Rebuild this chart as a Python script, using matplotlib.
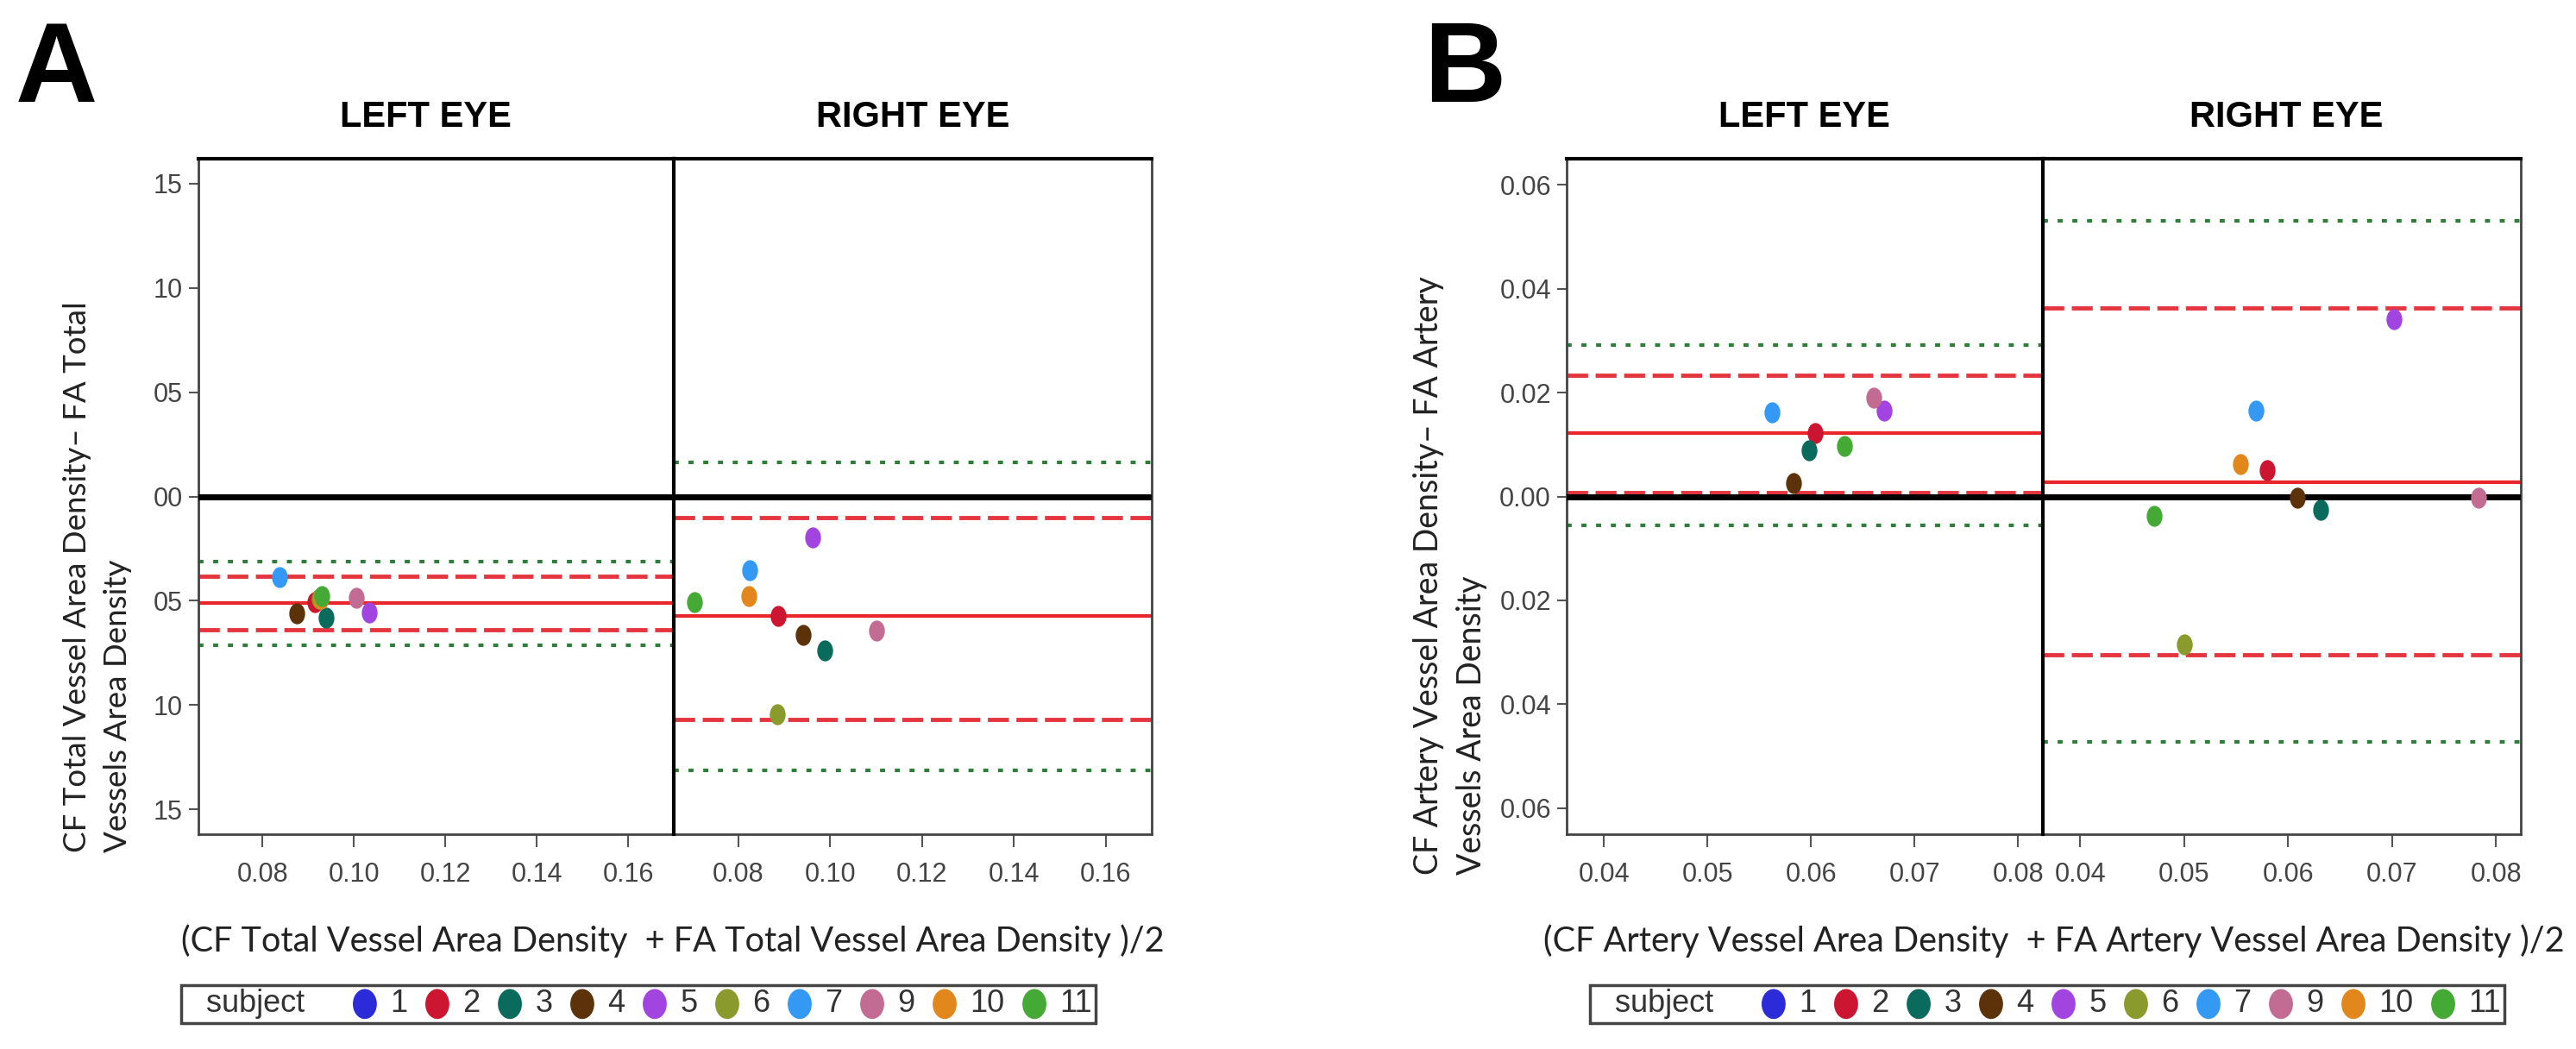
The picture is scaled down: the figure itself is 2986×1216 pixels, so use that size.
import numpy as np
import matplotlib
matplotlib.use("Agg")
import matplotlib.pyplot as plt
from matplotlib.path import Path
from matplotlib.transforms import Affine2D
from matplotlib.patches import Ellipse
from matplotlib.offsetbox import AnchoredOffsetbox, HPacker, TextArea, DrawingArea

nan = np.nan

# subjects and their colours (legend order)
subjects = ["1", "2", "3", "4", "5", "6", "7", "9", "10", "11"]
colors = ["#2b2bd9", "#cc1530", "#0a6b5c", "#5b3209", "#a244e0",
          "#8a9a2c", "#3399f5", "#c26c93", "#e2871c", "#45aa35"]

# Panel A : total vessel area density
a_left_x = [nan, 0.0915, 0.0939, 0.0875, 0.1033, 0.0925, 0.0838, 0.1005, 0.0928, 0.0930]
a_left_y = [nan, -0.0505, -0.0583, -0.0562, -0.0558, -0.0490, -0.0385, -0.0485, -0.0492, -0.0479]
a_right_x = [nan, 0.0888, 0.0989, 0.0942, 0.0962, 0.0885, 0.0826, 0.1102, 0.0823, 0.0705]
a_right_y = [nan, -0.0572, -0.0738, -0.0666, -0.0195, -0.1044, -0.0352, -0.0645, -0.0476, -0.0506]
# mean, limits of agreement, outer limits
a_left_lines = [-0.0511, -0.0382, -0.0641, -0.0314, -0.0715]
a_right_lines = [-0.0572, -0.0102, -0.1068, 0.0164, -0.1312]

# Panel B : artery vessel area density
b_left_x = [nan, 0.0604, 0.0598, 0.0583, 0.0671, nan, 0.0562, 0.0661, nan, 0.0632]
b_left_y = [nan, 0.0122, 0.0089, 0.0025, 0.0165, nan, 0.0162, 0.0190, nan, 0.0097]
b_right_x = [nan, 0.0580, 0.0631, 0.0609, 0.0702, 0.0500, 0.0569, 0.0783, 0.0554, 0.0471]
b_right_y = [nan, 0.0051, -0.0025, -0.0003, 0.0341, -0.0284, 0.0165, -0.0003, 0.0062, -0.0038]
b_left_lines = [0.0122, 0.0233, 0.0008, 0.0291, -0.0055]
b_right_lines = [0.0027, 0.0363, -0.0305, 0.0531, -0.0473]

a_xticks = [0.08, 0.10, 0.12, 0.14, 0.16]
a_xticklabels = ["0.08", "0.10", "0.12", "0.14", "0.16"]
a_yticks = [0.15, 0.10, 0.05, 0.0, -0.05, -0.10, -0.15]
a_yticklabels = ["15", "10", "05", "00", "05", "10", "15"]
b_xticks = [0.04, 0.05, 0.06, 0.07, 0.08]
b_xticklabels = ["0.04", "0.05", "0.06", "0.07", "0.08"]
b_yticks = [0.06, 0.04, 0.02, 0.0, -0.02, -0.04, -0.06]
b_yticklabels = ["0.06", "0.04", "0.02", "0.00", "0.02", "0.04", "0.06"]

narrow = ["Liberation Sans", "DejaVu Sans"]
plt.rcParams["font.family"] = narrow

W, H = 2986, 1216
fig = plt.figure(figsize=(W / 100, H / 100), dpi=100)
fig.patch.set_facecolor("white")

oval = Path.unit_circle().transformed(Affine2D().scale(0.74, 1.0))


def px_axes(x0, x1, y0, y1):
    return fig.add_axes([x0 / W, 1 - y1 / H, (x1 - x0) / W, (y1 - y0) / H])


def eye(ax, xs, ys, lines, xlim, ylim, xticks, xlabels):
    mean, up, lo, up2, lo2 = lines
    ax.axhline(mean, color="#e8262b", lw=3, zorder=2)
    for v in (up, lo):
        ax.axhline(v, color="#e5363f", lw=3.5, ls=(0, (5, 1.8)), zorder=2)
    for v in (up2, lo2):
        ax.axhline(v, color="#2f7d3a", lw=3, ls=(0, (1.4, 2.7)), zorder=2)
    ax.axhline(0, color="black", lw=5, zorder=3)
    for x, y, c in zip(xs, ys, colors):
        ax.plot([x], [y], ls="none", marker=oval, ms=16.5, color=c, mec=c, zorder=4)
    ax.set_xlim(*xlim)
    ax.set_ylim(*ylim)
    ax.set_xticks(xticks)
    ax.set_xticklabels(xlabels)
    ax.tick_params(axis="x", length=11, width=1.5, pad=12, colors="#555",
                   labelcolor="#444", labelsize=22)
    ax.tick_params(axis="y", length=8, width=1.5, pad=5, colors="#555",
                   labelcolor="#444", labelsize=22)
    for s in ax.spines.values():
        s.set_color("#444")
        s.set_linewidth(2)
    ax.spines["top"].set_color("black")
    ax.spines["top"].set_linewidth(3)


def panel(x0, xmid, x1, left, right, xlim, ylim, xticks, xlabels, yticks, ylabels):
    ax_l = px_axes(x0, xmid, 184, 967)
    ax_r = px_axes(xmid, x1, 184, 967)
    eye(ax_l, left[0], left[1], left[2], xlim, ylim, xticks, xlabels)
    eye(ax_r, right[0], right[1], right[2], xlim, ylim, xticks, xlabels)
    ax_l.set_yticks(yticks)
    ax_l.set_yticklabels(ylabels)
    ax_r.set_yticks(yticks)
    ax_r.tick_params(axis="y", left=False, labelleft=False)
    ax_l.spines["right"].set_visible(False)
    ax_r.spines["left"].set_color("black")
    ax_r.spines["left"].set_linewidth(3)
    ax_r.spines["left"].set_zorder(5)
    return ax_l, ax_r


panel(230, 781, 1335,
      (a_left_x, a_left_y, a_left_lines), (a_right_x, a_right_y, a_right_lines),
      (0.066, 0.170), (-0.162, 0.162), a_xticks, a_xticklabels, a_yticks, a_yticklabels)
panel(1816, 2368, 2922,
      (b_left_x, b_left_y, b_left_lines), (b_right_x, b_right_y, b_right_lines),
      (0.0364, 0.0824), (-0.065, 0.065), b_xticks, b_xticklabels, b_yticks, b_yticklabels)


def ftext(x, y, s, **kw):
    return fig.text(x / W, 1 - y / H, s, **kw)


# panel letters and eye headers
ftext(18, 22, "A", fontsize=95, fontweight="bold", va="top", ha="left", family=narrow)
ftext(1650, 22, "B", fontsize=95, fontweight="bold", va="top", ha="left", family=narrow)
head = dict(fontsize=30, fontweight="bold", va="center", ha="center",
            family=["Liberation Sans", "DejaVu Sans"])
ftext(493, 136, "LEFT EYE", **head)
ftext(1058, 136, "RIGHT EYE", **head)
ftext(2091, 136, "LEFT EYE", **head)
ftext(2650, 136, "RIGHT EYE", **head)

# axis titles
lab = dict(family=["Lato", "DejaVu Sans"], color="#222")
ftext(210, 1091, "(CF Total Vessel Area Density  + FA Total Vessel Area Density )/2",
      fontsize=28.5, va="center", ha="left", **lab)
ftext(1789, 1091, "(CF Artery Vessel Area Density  + FA Artery Vessel Area Density )/2",
      fontsize=28.5, va="center", ha="left", **lab)
ftext(113, 988, "CF Total Vessel Area Density\u2013 FA Total\nVessels Area Density",
      fontsize=26.5, rotation=90, va="bottom", ha="center", multialignment="left",
      linespacing=1.55, **lab)
ftext(1681, 1014, "CF Artery Vessel Area Density\u2013 FA Artery\nVessels Area Density",
      fontsize=27, rotation=90, va="bottom", ha="center", multialignment="left",
      linespacing=1.5, **lab)


def subject_legend(x0, y0):
    tp = dict(fontsize=26, color="#333", family=narrow)
    items = [DrawingArea(3, 1, 0, 0), TextArea("subject", textprops=tp),
             DrawingArea(10, 1, 0, 0)]
    for s, c in zip(subjects, colors):
        da = DrawingArea(20, 24, 0, 0)
        da.add_artist(Ellipse((10, 12), 19, 24, fc=c, ec=c))
        items.append(HPacker(children=[da, TextArea(s, textprops=tp)],
                             sep=11, align="center", pad=0))
    row = HPacker(children=items, sep=15, align="center", pad=0)
    box = AnchoredOffsetbox(loc="upper left", child=row, pad=0.12, borderpad=0,
                            frameon=True, bbox_to_anchor=(x0 / W, 1 - y0 / H),
                            bbox_transform=fig.transFigure, prop=dict(size=26))
    box.patch.set_boxstyle("square", pad=0)
    box.patch.set_edgecolor("#444")
    box.patch.set_linewidth(2.5)
    fig.add_artist(box)


subject_legend(210, 1142)
subject_legend(1843, 1142)

fig.savefig("out.png", dpi=100, facecolor="white")
